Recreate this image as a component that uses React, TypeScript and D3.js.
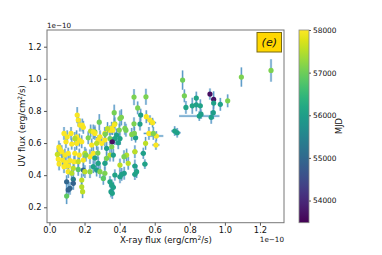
import React, { useEffect, useRef } from 'react';
import * as d3 from 'd3';

// fluxes in units of 1e-10 erg/cm^2/s
const xFlux = [
  1.263, 1.094, 1.016, 0.974, 0.915, 0.936, 0.936, 0.934, 0.922, 0.837,
  0.814, 0.837, 0.86, 0.864, 0.854, 0.759, 0.769, 0.778, 0.714, 0.728,
  0.55, 0.552, 0.573, 0.588, 0.567, 0.609, 0.548, 0.516, 0.544, 0.482,
  0.503, 0.52, 0.491, 0.469, 0.43, 0.436, 0.402, 0.373, 0.355, 0.36,
  0.345, 0.345, 0.373, 0.358, 0.316, 0.288, 0.278, 0.259, 0.331, 0.402,
  0.484, 0.369, 0.41, 0.284, 0.369, 0.482, 0.592, 0.607, 0.398, 0.383,
  0.158, 0.164, 0.174, 0.187, 0.193, 0.083, 0.101, 0.155, 0.17, 0.235,
  0.259, 0.221, 0.25, 0.094, 0.145, 0.123, 0.318, 0.127, 0.155, 0.184,
  0.241, 0.269, 0.07, 0.088, 0.107, 0.145, 0.17, 0.202, 0.231, 0.25,
  0.075, 0.094, 0.117, 0.14, 0.164, 0.193, 0.083, 0.107, 0.136, 0.164,
  0.107, 0.127, 0.193, 0.202, 0.231, 0.25, 0.269, 0.098, 0.136, 0.136,
  0.117, 0.107, 0.184, 0.184, 0.189, 0.098, 0.05, 0.055, 0.06, 0.045,
  0.054, 0.298, 0.316, 0.392, 0.355, 0.326, 0.345, 0.364, 0.44, 0.487,
  0.535, 0.278, 0.316, 0.326, 0.288, 0.316, 0.402, 0.487, 0.373, 0.402,
  0.412, 0.426, 0.487, 0.497, 0.307, 0.355, 0.364, 0.351, 0.358, 0.345,
  0.425, 0.449, 0.208, 0.259, 0.276,
];

const uvFlux = [
  1.052, 1.011, 0.863, 0.841, 0.905, 0.872, 0.849, 0.789, 0.76, 0.88,
  0.832, 0.838, 0.832, 0.78, 0.768, 0.992, 0.894, 0.822, 0.675, 0.664,
  0.888, 0.764, 0.743, 0.727, 0.66, 0.644, 0.598, 0.718, 0.469, 0.886,
  0.819, 0.774, 0.633, 0.654, 0.692, 0.68, 0.753, 0.72, 0.692, 0.68,
  0.68, 0.628, 0.628, 0.608, 0.66, 0.639, 0.62, 0.67, 0.69, 0.628,
  0.66, 0.789, 0.76, 0.73, 0.714, 0.72, 0.66, 0.588, 0.681, 0.65,
  0.774, 0.743, 0.712, 0.712, 0.698, 0.66, 0.639, 0.639, 0.619, 0.675,
  0.66, 0.633, 0.67, 0.608, 0.629, 0.66, 0.656, 0.594, 0.598, 0.608,
  0.588, 0.598, 0.546, 0.525, 0.536, 0.536, 0.525, 0.536, 0.515, 0.536,
  0.494, 0.478, 0.49, 0.484, 0.484, 0.494, 0.453, 0.457, 0.443, 0.436,
  0.422, 0.412, 0.432, 0.422, 0.422, 0.453, 0.432, 0.359, 0.374, 0.349,
  0.318, 0.308, 0.37, 0.328, 0.297, 0.27, 0.5, 0.47, 0.56, 0.53,
  0.575, 0.598, 0.619, 0.602, 0.577, 0.567, 0.525, 0.525, 0.525, 0.546,
  0.536, 0.474, 0.474, 0.505, 0.422, 0.412, 0.463, 0.457, 0.401, 0.39,
  0.405, 0.412, 0.405, 0.422, 0.38, 0.339, 0.324, 0.297, 0.287, 0.359,
  0.515, 0.474, 0.525, 0.507, 0.538,
];

const xErr = [
  0.008, 0.008, 0.01, 0.01, 0.01, 0.01, 0.01, 0.01, 0.01, 0.01,
  0.01, 0.01, 0.01, 0.01, 0.115, 0.01, 0.01, 0.01, 0.02, 0.02,
  0.01, 0.01, 0.02, 0.02, 0.03, 0.04, 0.01, 0.01, 0.015, 0.01,
  0.01, 0.01, 0.012, 0.01, 0.01, 0.01, 0.01, 0.012, 0.01, 0.01,
  0.01, 0.01, 0.012, 0.01, 0.01, 0.01, 0.01, 0.01, 0.01, 0.012,
  0.01, 0.01, 0.01, 0.01, 0.01, 0.01, 0.015, 0.02, 0.01, 0.01,
  0.01, 0.01, 0.01, 0.01, 0.01, 0.01, 0.01, 0.01, 0.01, 0.012,
  0.01, 0.01, 0.01, 0.01, 0.01, 0.01, 0.01, 0.01, 0.01, 0.01,
  0.012, 0.01, 0.01, 0.01, 0.01, 0.01, 0.01, 0.01, 0.01, 0.01,
  0.01, 0.01, 0.01, 0.01, 0.01, 0.01, 0.01, 0.01, 0.01, 0.01,
  0.01, 0.01, 0.01, 0.01, 0.012, 0.015, 0.015, 0.01, 0.01, 0.01,
  0.01, 0.01, 0.01, 0.01, 0.01, 0.01, 0.008, 0.008, 0.008, 0.008,
  0.008, 0.01, 0.01, 0.015, 0.01, 0.012, 0.01, 0.012, 0.012, 0.015,
  0.015, 0.012, 0.012, 0.01, 0.01, 0.01, 0.012, 0.015, 0.012, 0.015,
  0.015, 0.012, 0.015, 0.012, 0.01, 0.015, 0.015, 0.012, 0.012, 0.012,
  0.012, 0.012, 0.01, 0.012, 0.01,
];

const uvErr = [
  0.07, 0.06, 0.04, 0.04, 0.035, 0.05, 0.04, 0.04, 0.04, 0.04,
  0.05, 0.04, 0.04, 0.03, 0.03, 0.06, 0.04, 0.04, 0.03, 0.03,
  0.05, 0.04, 0.03, 0.03, 0.04, 0.03, 0.04, 0.04, 0.03, 0.05,
  0.04, 0.04, 0.03, 0.04, 0.04, 0.04, 0.05, 0.04, 0.04, 0.03,
  0.03, 0.04, 0.04, 0.03, 0.04, 0.04, 0.03, 0.04, 0.04, 0.04,
  0.04, 0.05, 0.05, 0.05, 0.04, 0.04, 0.04, 0.03, 0.04, 0.04,
  0.05, 0.04, 0.04, 0.04, 0.04, 0.04, 0.04, 0.04, 0.04, 0.04,
  0.04, 0.04, 0.045, 0.04, 0.04, 0.04, 0.04, 0.035, 0.04, 0.04,
  0.04, 0.04, 0.04, 0.04, 0.035, 0.04, 0.04, 0.04, 0.045, 0.04,
  0.04, 0.04, 0.04, 0.035, 0.04, 0.04, 0.04, 0.04, 0.04, 0.04,
  0.04, 0.04, 0.04, 0.04, 0.04, 0.04, 0.04, 0.04, 0.035, 0.04,
  0.04, 0.04, 0.04, 0.04, 0.04, 0.05, 0.04, 0.04, 0.04, 0.04,
  0.04, 0.04, 0.04, 0.04, 0.04, 0.04, 0.04, 0.04, 0.04, 0.04,
  0.035, 0.04, 0.04, 0.04, 0.04, 0.04, 0.04, 0.04, 0.035, 0.04,
  0.04, 0.04, 0.035, 0.04, 0.04, 0.035, 0.035, 0.035, 0.035, 0.035,
  0.04, 0.04, 0.04, 0.04, 0.04,
];

const mjd = [
  57100, 57100, 57100, 56050, 53650, 53700, 56050, 56000, 56050, 56100,
  56100, 56050, 56100, 56000, 56050, 57000, 57050, 56100, 56100, 56050,
  57100, 57950, 57980, 57950, 57980, 57950, 57550, 56050, 56100, 57100,
  57100, 56000, 56050, 57150, 57100, 57050, 57100, 57550, 57950, 57980,
  57950, 57000, 56100, 53650, 57980, 57950, 57950, 57150, 57550, 56100,
  57100, 57050, 57100, 57000, 57950, 57100, 57150, 57980, 57100, 56050,
  57950, 57980, 57950, 57980, 57950, 57980, 57950, 57980, 57950, 57550,
  57980, 57150, 57950, 57980, 57500, 57950, 57100, 57980, 57950, 57980,
  57950, 57550, 57980, 57950, 57980, 57950, 57980, 57550, 57950, 57980,
  57950, 57980, 57950, 57980, 57600, 57950, 57980, 57950, 57550, 56850,
  57950, 57500, 54950, 57550, 57200, 56050, 56000, 54950, 55350, 54900,
  54950, 54900, 57550, 57500, 57550, 56900, 57980, 57950, 57980, 57600,
  57950, 57980, 57950, 56050, 57100, 56000, 57550, 56050, 57500, 57550,
  56050, 56100, 56050, 57100, 57150, 57100, 57550, 56050, 56100, 56000,
  56050, 56000, 56050, 56100, 56850, 56100, 56050, 56000, 56050, 56100,
  57100, 57550, 57150, 56050, 57100,
];

const xTicks = [0.0, 0.2, 0.4, 0.6, 0.8, 1.0, 1.2];
const yTicks = [0.2, 0.4, 0.6, 0.8, 1.0, 1.2];
const mjdTicks = [54000, 55000, 56000, 57000, 58000];

const FONT = 'DejaVu Sans, sans-serif';

const App = () => {
  const svgRef = useRef<SVGSVGElement>(null);

  useEffect(() => {
    const svg = d3.select(svgRef.current);
    svg.selectAll('*').remove();

    const left = 47, right = 284, top = 30, bottom = 222.7;
    const x = d3.scaleLinear().domain([-0.014, 1.337]).range([left, right]);
    const y = d3.scaleLinear().domain([0.104, 1.304]).range([bottom, top]);
    const cDomain: [number, number] = [53480, 58000];
    const color = d3.scaleSequential(d3.interpolateViridis).domain(cDomain);

    const pts = xFlux.map((v, i) => ({ x: v, y: uvFlux[i], xe: xErr[i], ye: uvErr[i], t: mjd[i] }));

    // error bars
    const eb = svg.append('g');
    const drawBars = (width: number, opacity: number) => {
      const g = eb.append('g').attr('stroke', '#1f77b4').attr('stroke-width', width).attr('opacity', opacity);
      g.selectAll('.v').data(pts).enter().append('line')
        .attr('x1', (d) => x(d.x)).attr('x2', (d) => x(d.x))
        .attr('y1', (d) => y(d.y - d.ye)).attr('y2', (d) => y(d.y + d.ye));
      g.selectAll('.h').data(pts).enter().append('line')
        .attr('y1', (d) => y(d.y)).attr('y2', (d) => y(d.y))
        .attr('x1', (d) => x(d.x - d.xe)).attr('x2', (d) => x(d.x + d.xe));
    };
    drawBars(2.4, 0.25);
    drawBars(1, 0.7);

    // markers coloured by MJD
    svg.append('g').selectAll('circle').data(pts).enter().append('circle')
      .attr('cx', (d) => x(d.x)).attr('cy', (d) => y(d.y)).attr('r', 2.6)
      .attr('fill', (d) => color(d.t));

    // frame
    svg.append('rect').attr('x', left).attr('y', top).attr('width', right - left).attr('height', bottom - top)
      .attr('fill', 'none').attr('stroke', '#777').attr('stroke-width', 1);

    const styleAxis = (g: any) => {
      g.select('.domain').remove();
      g.selectAll('line').attr('stroke', '#555');
      g.selectAll('text').attr('font-family', FONT).attr('font-size', 8.3).attr('fill', '#111');
    };

    svg.append('g').attr('transform', `translate(0,${bottom})`)
      .call(d3.axisBottom(x).tickValues(xTicks).tickSize(3).tickPadding(1).tickFormat(d3.format('.1f')))
      .call(styleAxis);
    svg.append('g').attr('transform', `translate(${left},0)`)
      .call(d3.axisLeft(y).tickValues(yTicks).tickSize(3).tickPadding(2.5).tickFormat(d3.format('.1f')))
      .call(styleAxis);

    // offset texts
    svg.append('text').attr('x', left).attr('y', 28).attr('font-family', FONT).attr('font-size', 7.2)
      .attr('fill', '#111').text('1e\u221210');
    svg.append('text').attr('x', right).attr('y', 241.5).attr('text-anchor', 'end').attr('font-family', FONT)
      .attr('font-size', 7.2).attr('fill', '#111').text('1e\u221210');

    // axis labels
    const xl = svg.append('text').attr('x', 166).attr('y', 243).attr('text-anchor', 'middle')
      .attr('font-family', FONT).attr('font-size', 8.6).attr('fill', '#111');
    xl.append('tspan').text('X-ray flux (erg/cm');
    xl.append('tspan').attr('dy', -3).attr('font-size', 6).text('2');
    xl.append('tspan').attr('dy', 3).text('/s)');

    const yl = svg.append('text').attr('transform', 'translate(25,126) rotate(-90)').attr('text-anchor', 'middle')
      .attr('font-family', FONT).attr('font-size', 8.6).attr('fill', '#111');
    yl.append('tspan').text('UV flux (erg/cm');
    yl.append('tspan').attr('dy', -3).attr('font-size', 6).text('2');
    yl.append('tspan').attr('dy', 3).text('/s)');

    // panel tag
    svg.append('rect').attr('x', 257).attr('y', 32.5).attr('width', 24.5).attr('height', 19.5)
      .attr('fill', '#ffd700').attr('stroke', '#7a6a10').attr('stroke-width', 1);
    svg.append('text').attr('x', 269.3).attr('y', 46.2).attr('text-anchor', 'middle')
      .attr('font-family', FONT).attr('font-style', 'italic').attr('font-size', 11).attr('fill', '#111').text('(e)');

    // colorbar
    const cbX = 299, cbW = 10;
    const cScale = d3.scaleLinear().domain(cDomain).range([bottom, top]);
    const grad = svg.append('defs').append('linearGradient').attr('id', 'vir')
      .attr('x1', 0).attr('y1', 1).attr('x2', 0).attr('y2', 0);
    d3.range(0, 1.0001, 0.05).forEach((t) => {
      grad.append('stop').attr('offset', t).attr('stop-color', d3.interpolateViridis(t));
    });
    svg.append('rect').attr('x', cbX).attr('y', top).attr('width', cbW).attr('height', bottom - top)
      .attr('fill', 'url(#vir)').attr('stroke', '#888').attr('stroke-width', 0.8);
    svg.append('g').attr('transform', `translate(${cbX + cbW},0)`)
      .call(d3.axisRight(cScale).tickValues(mjdTicks).tickSize(2).tickPadding(2).tickFormat(d3.format('d')))
      .call((g: any) => {
        g.select('.domain').remove();
        g.selectAll('line').attr('stroke', '#555');
        g.selectAll('text').attr('font-family', FONT).attr('font-size', 7.4).attr('fill', '#111');
      });
    svg.append('text').attr('transform', 'translate(342,126) rotate(-90)').attr('text-anchor', 'middle')
      .attr('font-family', FONT).attr('font-size', 8.3).attr('fill', '#111').text('MJD');
  }, []);

  return (
    <div style={{ position: 'absolute', left: 0, top: 0 }}>
      <svg ref={svgRef} width={382} height={255} style={{ display: 'block', background: '#fff' }} />
    </div>
  );
};

export default App;
